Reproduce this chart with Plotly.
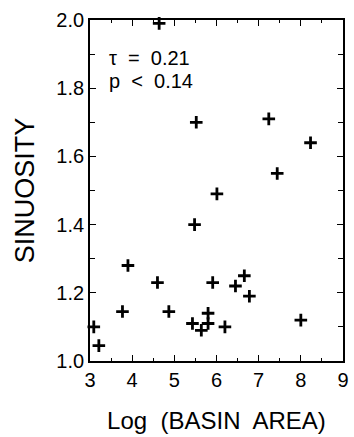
import plotly.graph_objects as go

log_area = [4.64, 5.52, 7.24, 8.23, 7.44, 6.01, 5.48, 3.90, 4.60, 5.91, 6.45, 6.66,
            6.78, 3.77, 4.87, 5.43, 5.64, 5.80, 5.80, 6.20, 8.00, 3.09, 3.21]
sinuosity = [1.99, 1.70, 1.71, 1.64, 1.55, 1.49, 1.40, 1.28, 1.23, 1.23, 1.22, 1.25,
             1.19, 1.145, 1.145, 1.11, 1.09, 1.11, 1.14, 1.10, 1.12, 1.10, 1.045]
x_ticks = [3, 4, 5, 6, 7, 8, 9]
y_ticks = [1.0, 1.2, 1.4, 1.6, 1.8, 2.0]
stats_text = ["τ  =  0.21", "p  <  0.14"]

FONT = "Liberation Sans, Arial, Helvetica, sans-serif"

fig = go.Figure()
fig.add_trace(go.Scatter(
    x=log_area, y=sinuosity, mode="markers",
    marker=dict(symbol="cross-thin", size=9, color="black",
                line=dict(color="black", width=2.8)),
    showlegend=False, cliponaxis=False,
))

axis_common = dict(
    showgrid=False, zeroline=False, showline=True, linecolor="black", linewidth=1.8,
    mirror="allticks", ticks="inside", ticklen=6, tickwidth=1.2, tickcolor="black",
    tickfont=dict(family=FONT, size=20, color="black"),
)

fig.update_layout(
    width=354, height=437,
    margin=dict(l=90, r=5, t=20, b=76),
    paper_bgcolor="white", plot_bgcolor="white",
    font=dict(family=FONT, color="black"),
    xaxis=dict(range=[3, 9], tickvals=x_ticks, ticktext=[str(v) for v in x_ticks],
               minor=dict(dtick=0.5, tick0=3, ticks="inside", ticklen=3, tickcolor="black"),
               title=dict(text="Log  (BASIN  AREA)", font=dict(family=FONT, size=24), standoff=22),
               **axis_common),
    yaxis=dict(range=[1.0, 2.0], tickvals=y_ticks, ticktext=[f"{v:.1f}" for v in y_ticks],
               minor=dict(dtick=0.1, tick0=1.0, ticks="inside", ticklen=5, tickcolor="black"),
               title=dict(text="SINUOSITY", font=dict(family=FONT, size=27), standoff=14),
               **axis_common),
)

for i, line in enumerate(stats_text):
    fig.add_annotation(
        x=0, y=1, xref="x domain", yref="y domain", xanchor="left", yanchor="middle",
        xshift=18, yshift=-(38 + 23 * i), align="left", showarrow=False,
        text=line, font=dict(family=FONT, size=20, color="black"),
        borderpad=0,
    )

fig.write_html("out.html")
